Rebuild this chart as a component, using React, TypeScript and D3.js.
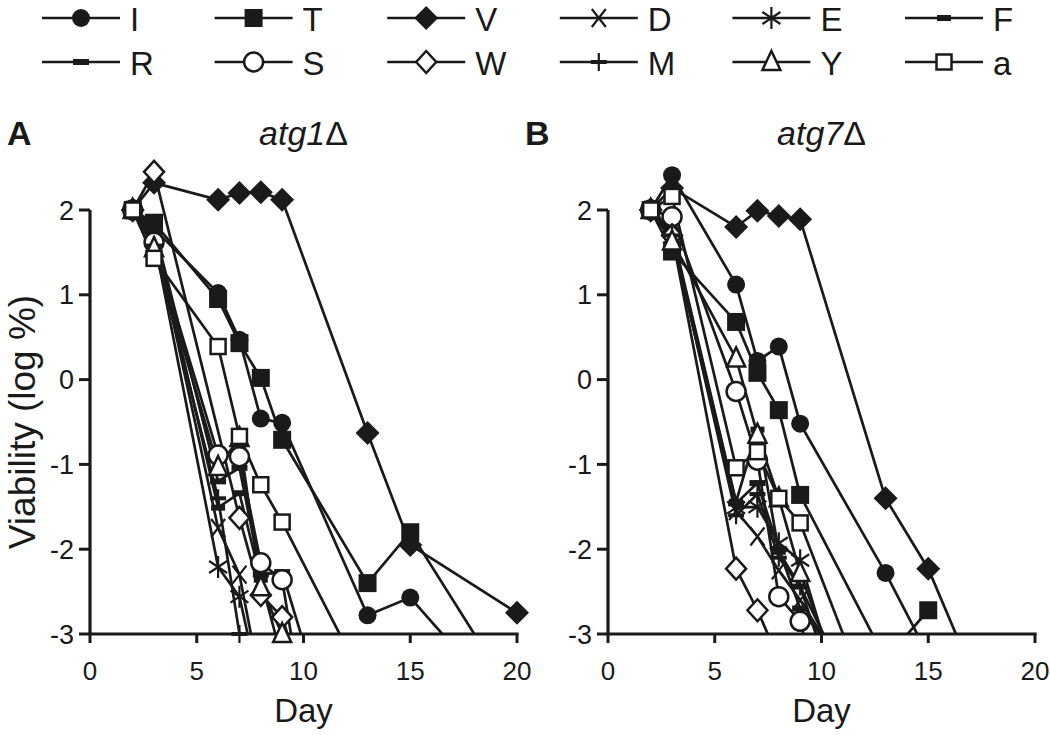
import React from "react";
import * as d3 from "d3";

// ---------- data ----------
const seriesNames = ["I", "T", "V", "D", "E", "F", "R", "S", "W", "M", "Y", "a"];
const days = [2, 3, 6, 7, 8, 9, 10, 13, 15, 20];
const xTicks = [0, 5, 10, 15, 20];
const yTicks = [2, 1, 0, -1, -2, -3];

// Panel A: atg1Δ  (log % viability, null = not measured)
const atg1_I = [2.0, 1.78, 1.02, 0.47, -0.46, -0.51, null, -2.78, -2.57, -4.0];
const atg1_T = [2.0, 1.85, 0.95, 0.43, 0.02, -0.71, null, -2.4, -1.8, -3.8];
const atg1_V = [2.0, 2.32, 2.12, 2.2, 2.21, 2.12, null, -0.63, -1.95, -2.75];
const atg1_D = [2.0, 1.72, -1.75, -2.3, -3.6, null, null, null, null, null];
const atg1_E = [2.0, 1.66, -2.21, -2.56, -3.7, null, null, null, null, null];
const atg1_F = [2.0, 1.74, -1.51, -1.34, -2.36, -3.3, null, null, null, null];
const atg1_R = [2.0, 1.8, -1.2, -1.04, -2.3, -2.27, -3.1, null, null, null];
const atg1_S = [2.0, 1.62, -0.89, -0.91, -2.16, -2.36, -3.9, null, null, null];
const atg1_W = [2.0, 2.45, null, -1.63, -2.54, -2.8, -3.6, null, null, null];
const atg1_M = [2.0, 1.58, -1.4, -3.0, null, null, null, null, null, null];
const atg1_Y = [2.0, 1.55, -1.03, -0.69, -2.45, -3.0, null, null, null, null];
const atg1_a = [2.0, 1.43, 0.39, -0.67, -1.24, -1.68, null, -3.64, null, null];

// Panel B: atg7Δ
const atg7_I = [2.0, 2.41, 1.12, 0.22, 0.39, -0.52, null, -2.28, -3.25, null];
const atg7_T = [2.0, 1.51, 0.68, 0.08, -0.36, -1.36, null, -3.3, -2.72, null];
const atg7_V = [2.0, 2.26, 1.8, 1.99, 1.93, 1.89, null, -1.4, -2.23, -5.2];
const atg7_D = [2.0, 1.7, -1.55, -1.85, -2.25, -2.6, null, -4.2, null, null];
const atg7_E = [2.0, 1.68, -1.51, -1.5, -1.93, -2.13, null, -5.5, null, null];
const atg7_F = [2.0, 1.75, -1.44, -0.59, -2.03, -2.44, null, -4.5, null, null];
const atg7_R = [2.0, 1.72, -1.46, -1.22, -2.0, -2.7, null, -4.0, null, null];
const atg7_S = [2.0, 1.92, -0.14, -0.95, -2.56, -2.85, -3.8, null, null, null];
const atg7_W = [2.0, 1.7, -2.23, -2.72, -3.3, null, null, null, null, null];
const atg7_M = [2.0, 1.7, -1.6, -1.35, -2.1, -2.44, null, -5.5, null, null];
const atg7_Y = [2.0, 1.63, 0.25, -0.65, -1.4, -2.28, null, -5.0, null, null];
const atg7_a = [2.0, 2.16, -1.04, -0.85, -1.4, -1.69, null, -4.3, null, null];

const atg1Rows = [atg1_I, atg1_T, atg1_V, atg1_D, atg1_E, atg1_F, atg1_R, atg1_S, atg1_W, atg1_M, atg1_Y, atg1_a];
const atg7Rows = [atg7_I, atg7_T, atg7_V, atg7_D, atg7_E, atg7_F, atg7_R, atg7_S, atg7_W, atg7_M, atg7_Y, atg7_a];

// ---------- style ----------
const INK = "#1a1a1a";
const FONT = "'Liberation Sans', Arial, Helvetica, sans-serif";
const LINE_W = 2.7;

function Marker({ kind, x, y }: { kind: string; x: number; y: number }) {
  const sw = 2.5;
  switch (kind) {
    case "I":
      return <circle cx={x} cy={y} r={9} fill={INK} />;
    case "T":
      return <rect x={x - 9} y={y - 9} width={18} height={18} fill={INK} />;
    case "V":
      return <path d={`M${x},${y - 12}L${x + 12},${y}L${x},${y + 12}L${x - 12},${y}Z`} fill={INK} />;
    case "D":
      return (
        <path
          d={`M${x - 7},${y - 9}L${x + 7},${y + 9}M${x - 7},${y + 9}L${x + 7},${y - 9}`}
          stroke={INK}
          strokeWidth={2.2}
          fill="none"
        />
      );
    case "E":
      return (
        <path
          d={`M${x},${y - 11}L${x},${y + 11}M${x - 9},${y - 6}L${x + 9},${y + 6}M${x - 9},${y + 6}L${x + 9},${y - 6}`}
          stroke={INK}
          strokeWidth={2.2}
          fill="none"
        />
      );
    case "F":
      return <rect x={x - 7} y={y - 3} width={14} height={6} fill={INK} />;
    case "R":
      return <rect x={x - 8} y={y - 3} width={16} height={6} fill={INK} />;
    case "S":
      return <circle cx={x} cy={y} r={9.5} fill="#fff" stroke={INK} strokeWidth={sw} />;
    case "W":
      return (
        <path
          d={`M${x},${y - 11}L${x + 10},${y}L${x},${y + 11}L${x - 10},${y}Z`}
          fill="#fff"
          stroke={INK}
          strokeWidth={sw}
        />
      );
    case "M":
      return (
        <g>
          <rect x={x - 8} y={y - 2} width={16} height={4} fill={INK} />
          <line x1={x} x2={x} y1={y - 9} y2={y + 9} stroke={INK} strokeWidth={2.2} />
        </g>
      );
    case "Y":
      return (
        <path
          d={`M${x},${y - 11}L${x + 9},${y + 8}L${x - 9},${y + 8}Z`}
          fill="#fff"
          stroke={INK}
          strokeWidth={sw}
          strokeLinejoin="miter"
        />
      );
    case "a":
      return <rect x={x - 7.5} y={y - 7.5} width={15} height={15} fill="#fff" stroke={INK} strokeWidth={sw} />;
    default:
      return null;
  }
}

function Panel({
  x0,
  letter,
  gene,
  rows,
  showYLabel,
  id,
}: {
  x0: number;
  letter: string;
  gene: string;
  rows: (number | null)[][];
  showYLabel: boolean;
  id: string;
}) {
  const xScale = d3.scaleLinear().domain([0, 20]).range([x0, x0 + 427]);
  const yScale = d3.scaleLinear().domain([-3, 2]).range([634, 210]);
  const line = d3
    .line<{ d: number; v: number }>()
    .x((p) => xScale(p.d))
    .y((p) => yScale(p.v));

  const data = rows.map((vals, i) => ({
    name: seriesNames[i],
    pts: days
      .map((d, j) => ({ d, v: vals[j] as number }))
      .filter((p) => p.v !== null && p.v !== undefined),
  }));

  const yBase = yScale(-3);
  const yTop = yScale(2);
  const xEnd = xScale(20);

  return (
    <g>
      <defs>
        <clipPath id={id}>
          <rect x={x0} y={0} width={460} height={yBase} />
        </clipPath>
      </defs>
      {/* panel letter and title */}
      <text x={x0 - 83} y={145} fontFamily={FONT} fontWeight="bold" fontSize={34} fill={INK}>
        {letter}
      </text>
      <text x={(x0 + xEnd) / 2} y={145} fontFamily={FONT} fontSize={34} textAnchor="middle" fill={INK}>
        <tspan fontStyle="italic">{gene}</tspan>
        <tspan>Δ</tspan>
      </text>

      {/* axes */}
      <line x1={x0} x2={x0} y1={yTop} y2={yBase} stroke={INK} strokeWidth={3.2} />
      <line x1={x0 - 1.6} x2={xEnd + 1.6} y1={yBase} y2={yBase} stroke={INK} strokeWidth={3.2} />
      {yTicks.map((t) => (
        <g key={`y${t}`}>
          <line x1={x0 - 11} x2={x0} y1={yScale(t)} y2={yScale(t)} stroke={INK} strokeWidth={3} />
          <text
            x={x0 - 16}
            y={yScale(t) + 9.5}
            textAnchor="end"
            fontFamily={FONT}
            fontSize={27}
            fill={INK}
          >
            {t}
          </text>
        </g>
      ))}
      {xTicks.map((t) => (
        <g key={`x${t}`}>
          <line x1={xScale(t)} x2={xScale(t)} y1={yBase} y2={yBase + 9} stroke={INK} strokeWidth={3} />
          <text x={xScale(t)} y={680} textAnchor="middle" fontFamily={FONT} fontSize={26} fill={INK}>
            {t}
          </text>
        </g>
      ))}
      <text x={(x0 + xEnd) / 2} y={722} textAnchor="middle" fontFamily={FONT} fontSize={33} fill={INK}>
        Day
      </text>
      {showYLabel && (
        <text
          transform={`translate(35,${(yTop + yBase) / 2}) rotate(-90)`}
          textAnchor="middle"
          fontFamily={FONT}
          fontSize={37}
          fill={INK}
        >
          Viability (log %)
        </text>
      )}

      {/* lines */}
      <g clipPath={`url(#${id})`}>
        {data.map((s) => (
          <path key={s.name} d={line(s.pts) || ""} fill="none" stroke={INK} strokeWidth={LINE_W} />
        ))}
      </g>
      {/* markers */}
      {data.map((s) => (
        <g key={`m${s.name}`}>
          {s.pts
            .filter((p) => p.v >= -3.001)
            .map((p, k) => (
              <Marker key={k} kind={s.name} x={xScale(p.d)} y={yScale(p.v)} />
            ))}
        </g>
      ))}
    </g>
  );
}

function Legend() {
  return (
    <g>
      {seriesNames.map((name, i) => {
        const row = i < 6 ? 0 : 1;
        const col = i % 6;
        const lx = 42 + col * 172.6;
        const ly = 18 + row * 44;
        return (
          <g key={name}>
            <line x1={lx} x2={lx + 78} y1={ly} y2={ly} stroke={INK} strokeWidth={LINE_W} />
            <Marker kind={name} x={lx + 39} y={ly} />
            <text x={lx + 88} y={ly + 12.5} fontFamily={FONT} fontSize={33} fill={INK}>
              {name}
            </text>
          </g>
        );
      })}
    </g>
  );
}

export default function App() {
  return (
    <svg
      width={1050}
      height={735}
      viewBox="0 0 1050 735"
      style={{ position: "absolute", left: 0, top: 0, background: "#fff" }}
    >
      <rect width={1050} height={735} fill="#fff" />
      <Legend />
      <Panel x0={90} letter="A" gene="atg1" rows={atg1Rows} showYLabel={true} id="clipA" />
      <Panel x0={608} letter="B" gene="atg7" rows={atg7Rows} showYLabel={false} id="clipB" />
    </svg>
  );
}
